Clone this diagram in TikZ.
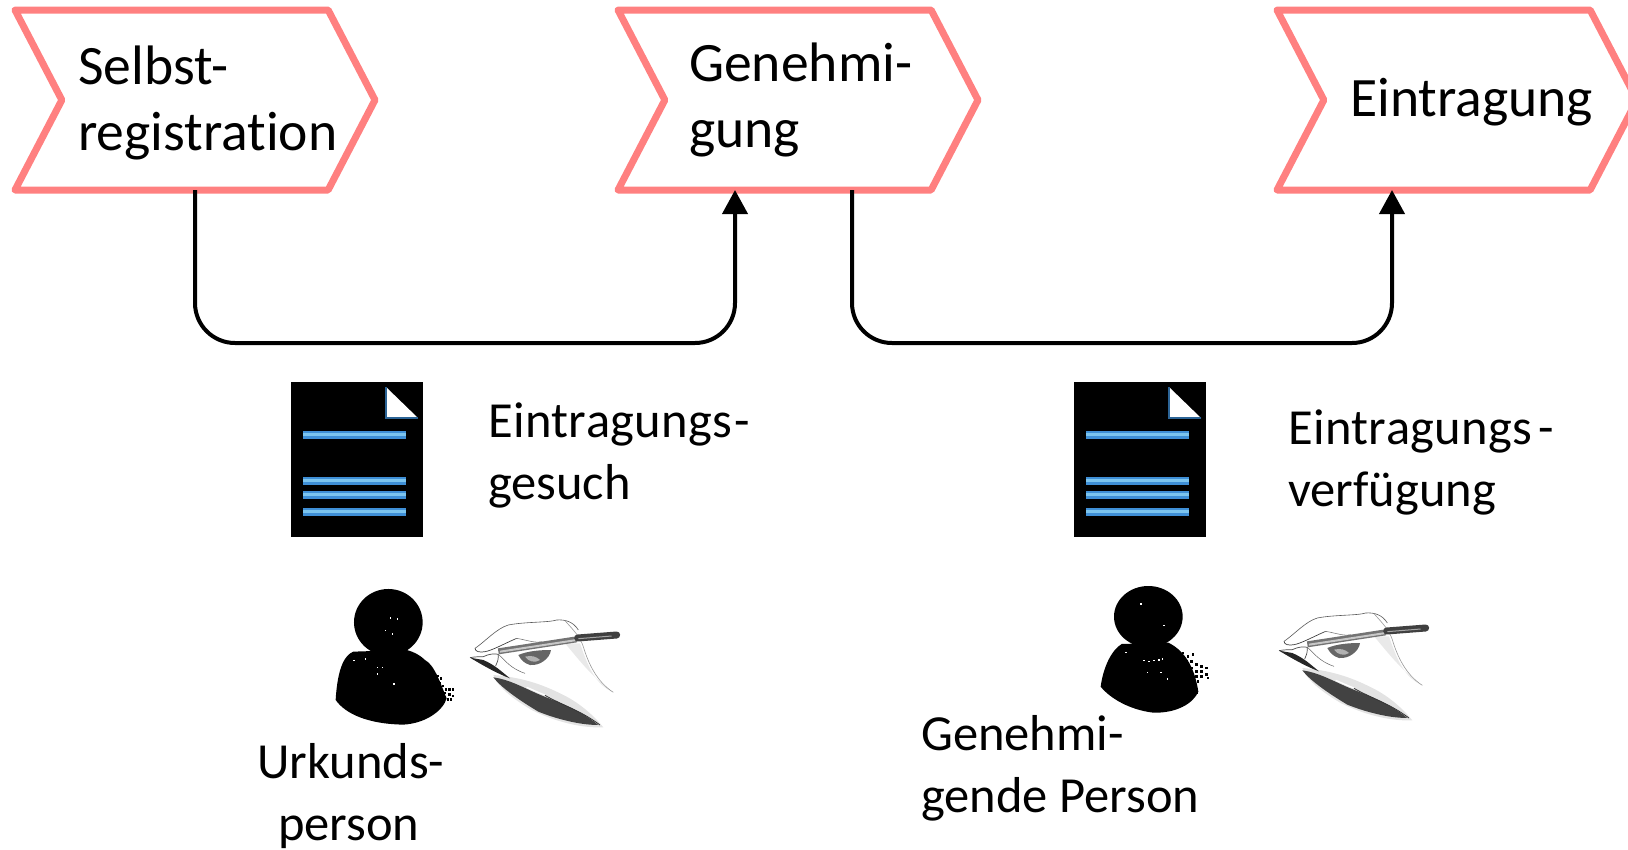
\documentclass[tikz,border=0pt]{standalone}
\usepackage{fontspec}
\setmainfont[Ligatures=CommonOff]{Carlito}
\usetikzlibrary{shapes.symbols,arrows.meta}
\definecolor{chev}{HTML}{FF8080}
\definecolor{barA}{HTML}{3F8FD6}
\definecolor{barB}{HTML}{7CC4EE}
\newcommand{\docicon}{%
  \fill[black] (291,382) rectangle (423,537);
  \fill[white] (386,387) -- (418,418) -- (386,418) -- cycle;
  \draw[barA!70!black,line width=1.4pt] (386,387) -- (386,418) -- (418,418);
  \foreach \yy in {431,477,491,508}{
    \fill[barA] (303,\yy) rectangle (406,\yy+7.5);
    \fill[barB] (303,\yy+2) rectangle (406,\yy+5);
  }}
\newcommand{\handicon}{%
  % soft wrist shading
  \fill[black!40,opacity=.22] (300,100) .. controls (335,140) and (370,190) .. (440,245)
    .. controls (400,225) and (375,190) .. (345,100) -- cycle;
  % soft lower shadow
  \fill[black!50,opacity=.22] (85,195) .. controls (150,200) and (215,215) .. (285,250)
    .. controls (340,275) and (385,315) .. (415,352)
    .. controls (350,355) and (270,335) .. (200,300)
    .. controls (150,270) and (100,235) .. (85,195) -- cycle;
  \fill[black!85,opacity=.85] (85,202) .. controls (130,208) and (170,230) .. (215,250)
    .. controls (265,272) and (340,295) .. (400,345)
    .. controls (340,345) and (270,325) .. (220,305)
    .. controls (170,275) and (110,235) .. (85,202) -- cycle;
  \draw[white,line width=1.2pt] (185,232) .. controls (205,240) and (220,248) .. (240,255);
  \draw[black!80,line width=.8pt] (240,256) .. controls (290,285) and (345,300) .. (405,345);
  % hand outline
  \draw[black!65,line width=.6pt] (30,115) .. controls (60,95) and (95,55) .. (130,45)
    .. controls (180,35) and (250,38) .. (275,30)
    .. controls (300,28) and (325,35) .. (340,60);
  \draw[black!40,line width=.6pt] (300,32) .. controls (325,60) and (345,80) .. (355,110)
    .. controls (370,160) and (395,215) .. (445,247);
  \draw[black!75,line width=.7pt] (30,115) .. controls (30,125) and (45,128) .. (60,125)
    .. controls (80,122) and (120,100) .. (155,85);
  \draw[black!50,line width=.6pt] (155,85) .. controls (185,90) and (210,100) .. (230,95);
  % curled fingers
  \fill[black!60] (160,135) .. controls (190,122) and (230,120) .. (258,120)
    .. controls (255,145) and (225,168) .. (195,165)
    .. controls (178,160) and (168,150) .. (160,135) -- cycle;
  \fill[black!30] (180,140) .. controls (200,135) and (215,140) .. (225,150)
    .. controls (210,160) and (190,155) .. (180,140) -- cycle;
  % thumb
  \draw[black!70,line width=.7pt] (15,143) .. controls (30,140) and (45,140) .. (55,140)
    .. controls (70,132) and (90,130) .. (100,133)
    .. controls (100,148) and (98,158) .. (92,168);
  \draw[black!60,line width=.5pt] (100,133) .. controls (120,150) and (135,175) .. (180,190);
  \fill[black!85] (15,143) -- (55,150) .. controls (90,165) and (110,185) .. (135,205)
    .. controls (100,192) and (60,170) .. (15,143) -- cycle;
  % pen
  \draw[black!55,line width=6pt] (100,124) -- (335,88);
  \draw[black!22,line width=2pt] (105,125) -- (335,90);
  \draw[black!75,line width=7pt,line cap=round] (338,84) -- (455,75);
  \draw[black!35,line width=1pt] (340,86) -- (440,78);
}
\tikzset{
  stage/.style={draw=chev,line width=7pt,line join=round,fill=white,shape=signal,
    signal from=west,signal to=east,signal pointer angle=125,
    minimum width=360pt,minimum height=180pt,inner sep=0pt,outer sep=0pt},
  flow/.style={draw=black,line width=4pt,rounded corners=40pt,
    -{Triangle[length=24pt,width=25pt]}},
  big/.style={anchor=west,align=left,inner sep=0pt,font=\fontsize{55.6}{66}\selectfont},
  small/.style={anchor=west,align=left,inner sep=0pt,font=\fontsize{50.5}{62}\selectfont},
}
\newcommand{\wideword}[1]{{\addfontfeature{LetterSpace=0.8}Eintragungs}\kern#1pt-}
\begin{document}
\begin{tikzpicture}[x=1pt,y=-1pt]
\useasboundingbox (0,0) rectangle (1628,849);
\clip (0,0) rectangle (1628,849);
\node[stage] (sel) at (195,100) {};
\node[stage] (gen) at (798,100) {};
\node[stage] (ein) at (1457,100) {};
\node[big] (tsel) at (78,103) {Selbst-\\registration};
\node[big] (tgen) at (689,100) {Genehmi-\\gung};
\node[big] (tein) at (1350,102) {Eintragung};
\draw[flow] ([xshift=0pt]sel.south) -- ++(0,153) -| ([xshift=-63pt]gen.south);
\draw[flow] ([xshift=54pt]gen.south) -- ++(0,153) -| ([xshift=-65pt]ein.south);
\begin{scope}\docicon\end{scope}
\begin{scope}[xshift=783pt]\docicon\end{scope}
\node[small] (t1) at (488,455) {\wideword{2}\\gesuch};
\node[small] (t2) at (1288,462) {\wideword{6}\\verfügung};
% person 1
\begin{scope}[shift={(270,370)},x=0.3333pt,y=-0.3333pt]
\fill[black] (355,757) ellipse (103 and 100);
\fill[black] (250,845) .. controls (225,855) and (203,890) .. (197,990)
  .. controls (225,1030) and (290,1062) .. (400,1064)
  .. controls (470,1060) and (520,1020) .. (530,985)
  .. controls (515,950) and (495,885) .. (465,870)
  .. controls (450,855) and (430,845) .. (410,840) -- cycle;
\foreach \xa/\ya in {495/925,505/935,515/945,525/955,535/955,545/955,505/950,520/965,535/970,545/975,530/985,540/985,500/915,510/922}
  \fill[black] (\xa,\ya) rectangle +(7,7);
\foreach \xa/\ya in {360/742,380/745,345/780,365/790,250/870,320/890,335/890,320/910,370/940,285/865}
  \fill[white] (\xa,\ya) rectangle +(4,4);
\end{scope}
\begin{scope}[shift={(465,610)},x=0.3333pt,y=-0.3333pt]\handicon\end{scope}
% person 2
\begin{scope}[shift={(1080,570)},x=0.3333pt,y=-0.3333pt]
\fill[black] (205,140) ellipse (103 and 92);
\fill[black] (125,222) .. controls (95,240) and (70,290) .. (62,350)
  .. controls (90,385) and (150,420) .. (220,428)
  .. controls (290,430) and (340,400) .. (355,365)
  .. controls (345,300) and (320,245) .. (265,218) -- cycle;
\foreach \xa/\ya in {290/240,305/245,320/255,335/250,300/262,315/270,330/270,345/280,360/285,375/290,330/290,345/300,360/300,375/310,345/315,360/315,380/320,350/330,340/345,345/365}
  \fill[black] (\xa,\ya) rectangle +(8,8);
\foreach \xa/\ya in {190/270,205/272,220/270,235/268,245/265,200/305,240/305,260/325,135/245,180/100,250/165}
  \fill[white] (\xa,\ya) rectangle +(5,4);
\end{scope}
\begin{scope}[shift={(1274,603)},x=0.3333pt,y=-0.3333pt]\handicon\end{scope}
\node[small,align=center] (t3) at (257,796) {Urkunds-\\person\kern4pt};
\node[small] (t4) at (921,768) {Genehmi-\\gende Person};
\end{tikzpicture}
\end{document}
